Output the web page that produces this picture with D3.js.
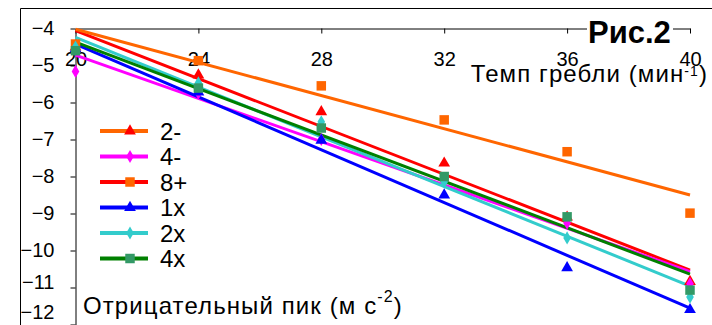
<!DOCTYPE html>
<html>
<head>
<meta charset="utf-8">
<script src="https://cdn.jsdelivr.net/npm/d3@7"></script>
<style>
  body { margin: 0; background: #fff; }
  svg { display: block; font-family: "Liberation Sans", Arial, sans-serif; }
</style>
</head>
<body>
<svg id="chart" width="712" height="325"></svg>
<script>
// rowing rate (strokes per minute)
var rates = [20, 24, 28, 32, 36, 40];
var seriesNames = ["2-", "4-", "8+", "1x", "2x", "4x"];

// negative peak values per boat class
var twoMinus  = [-4.5, -5.26, -6.25, -7.64, -9.1, -10.84];
var fourMinus = [-5.16, -5.75, -7.0, -8.1, -9.26, -10.9];
var eightPlus = [-4.42, -4.87, -5.55, -6.47, -7.33, -8.99];
var oneX      = [-4.55, -5.72, -7.02, -8.5, -10.47, -11.6];
var twoX      = [-4.5, -5.47, -6.52, -8.15, -9.66, -11.26];
var fourX     = [-4.6, -5.61, -6.69, -8.0, -9.09, -11.07];

// trend lines, value at rate 20 and at rate 40
var trendAt20 = [-4.06, -4.72, -4.02, -4.42, -4.24, -4.37];
var trendAt40 = [-10.53, -10.57, -8.5, -11.56, -10.96, -10.64];

var xTicks = [20, 24, 28, 32, 36, 40];
var yTicks = [-4, -5, -6, -7, -8, -9, -10, -11, -12];

var allValues = [twoMinus, fourMinus, eightPlus, oneX, twoX, fourX];

// look of each series (markers and trend lines differ, like the original)
var trendColors  = ["#FF0000", "#FF00FF", "#FF6600", "#0000FF", "#33CCCC", "#008000"];
var markerColors = ["#FF0000", "#FF00FF", "#FF6600", "#0000FF", "#33CCCC", "#339966"];
var legendLineColors = ["#FF6600", "#FF00FF", "#FF0000", "#0000FF", "#33CCCC", "#008000"];
var markerTypes = [d3.symbolTriangle, d3.symbolDiamond, d3.symbolSquare,
                   d3.symbolTriangle, d3.symbolDiamond, d3.symbolSquare];
var markerSizes = [60, 50, 90, 60, 50, 90];

var svg = d3.select("#chart");

var x = d3.scaleLinear().domain([20, 40]).range([75.5, 690]);
var y = d3.scaleLinear().domain([-4, -12]).range([28.5, 324.5]);

// outer frame
svg.append("path")
    .attr("d", "M20.5,325 V8.5 H712")
    .attr("fill", "none")
    .attr("stroke", "#000")
    .attr("stroke-width", 1);

// x axis along the top
var xAxis = svg.append("g")
    .attr("transform", "translate(0,28.5)")
    .call(d3.axisBottom(x).tickValues(xTicks).tickSizeInner(5).tickSizeOuter(0).tickPadding(18));
xAxis.selectAll("text").attr("font-size", 20).attr("font-family", null).attr("fill", "#000");
xAxis.selectAll("line,path").attr("stroke", "#000");

// y axis
var yAxis = svg.append("g")
    .attr("transform", "translate(75.5,0)")
    .call(d3.axisLeft(y).tickValues(yTicks).tickSizeInner(5).tickSizeOuter(0).tickPadding(16));
yAxis.selectAll("text").attr("font-size", 20).attr("font-family", null).attr("fill", "#000");
yAxis.selectAll("line,path").attr("stroke", "#000");
// the lowest labels are pushed up so they stay inside the frame
yAxis.selectAll(".tick text")
    .filter(function(d) { return d === -11; }).attr("y", -5);
yAxis.selectAll(".tick text")
    .filter(function(d) { return d === -12; }).attr("y", -12.5);

// trend lines
svg.selectAll(".trend")
    .data(seriesNames)
  .enter().append("line")
    .attr("class", "trend")
    .attr("x1", x(20))
    .attr("x2", x(40))
    .attr("y1", function(d, i) { return y(trendAt20[i]); })
    .attr("y2", function(d, i) { return y(trendAt40[i]); })
    .attr("stroke", function(d, i) { return trendColors[i]; })
    .attr("stroke-width", 3);

// markers
allValues.forEach(function(vals, i) {
  svg.append("g").selectAll("path")
      .data(vals)
    .enter().append("path")
      .attr("d", d3.symbol().type(markerTypes[i]).size(markerSizes[i]))
      .attr("transform", function(d, j) { return "translate(" + x(rates[j]) + "," + y(d) + ")"; })
      .attr("fill", markerColors[i]);
});

// legend
var legend = svg.append("g");
var rowY = function(i) { return 131 + i * 25.5; };
seriesNames.forEach(function(name, i) {
  legend.append("line")
      .attr("x1", 100).attr("x2", 148)
      .attr("y1", rowY(i)).attr("y2", rowY(i))
      .attr("stroke", legendLineColors[i])
      .attr("stroke-width", 4);
  legend.append("path")
      .attr("d", d3.symbol().type(markerTypes[i]).size(markerSizes[i]))
      .attr("transform", "translate(130," + rowY(i) + ")")
      .attr("fill", markerColors[i]);
  legend.append("text")
      .attr("x", 160)
      .attr("y", rowY(i))
      .attr("dy", "0.36em")
      .attr("font-size", 24)
      .text(name);
});

// axis titles
var xTitle = svg.append("text")
    .attr("x", 708)
    .attr("y", 82)
    .attr("text-anchor", "end")
    .attr("font-size", 24)
    .attr("letter-spacing", 1.1);
xTitle.append("tspan").text("Темп гребли (мин");
xTitle.append("tspan").attr("font-size", 14).attr("dy", -6).text("-1");
xTitle.append("tspan").attr("dy", 6).text(")");

var yTitle = svg.append("text")
    .attr("x", 83)
    .attr("y", 314)
    .attr("font-size", 24)
    .attr("letter-spacing", 1.1);
yTitle.append("tspan").text("Отрицательный пик (м с");
yTitle.append("tspan").attr("font-size", 16).attr("dy", -12).text("-2");
yTitle.append("tspan").attr("dy", 12).text(")");

// figure label over the top axis
svg.append("rect")
    .attr("x", 587).attr("y", 12)
    .attr("width", 86).attr("height", 34)
    .attr("fill", "#fff");
svg.append("text")
    .attr("x", 588)
    .attr("y", 43)
    .attr("font-size", 31)
    .attr("font-weight", "bold")
    .text("Рис.2");
</script>
</body>
</html>
